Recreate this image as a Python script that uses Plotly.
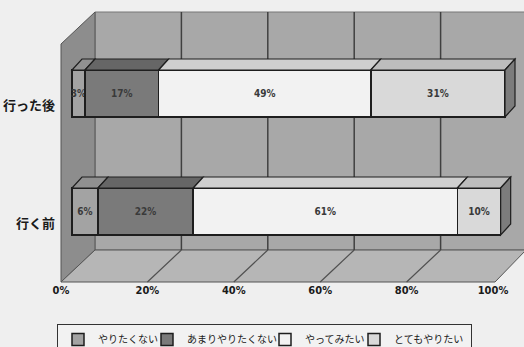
import plotly.graph_objects as go

# ---- data ----
categories = ["行く前", "行った後"]
series_names = ["やりたくない", "あまりやりたくない", "やってみたい", "とてもやりたい"]
v_yaritakunai = [6, 3]
v_amari = [22, 17]
v_yattemitai = [61, 49]
v_totemo = [10, 31]
tick_values = [0, 20, 40, 60, 80, 100]
tick_labels = ["0%", "20%", "40%", "60%", "80%", "100%"]

series_values = [v_yaritakunai, v_amari, v_yattemitai, v_totemo]
front_colors = ["#a3a3a3", "#7a7a7a", "#f2f2f2", "#d9d9d9"]
top_colors = ["#909090", "#666666", "#cfcfcf", "#bdbdbd"]
legend_widths = [44, 73, 44, 72]
side_color = "#7c7c7c"
edge = "#1e1e1e"

W, H = 524, 347
def fx(px):
    return px / W
def fy(py):
    return 1 - py / H

# pixel geometry of the pseudo-3D box
front_left, back_left = 61, 95
top_px, back_bottom, front_bottom = 12, 250, 282
depth_x, depth_y = back_left - front_left, front_bottom - back_bottom
pct_px = 4.33          # pixels per percent
bar0_px = 72           # pixel of 0% on bar front face
ypos = list(range(len(categories)))
unit_px = 118
cat_center_px = {1: 93.5, 0: 211.5}

x_range = [(front_left - bar0_px) / pct_px, (W - bar0_px) / pct_px]
y_range = [0 - (front_bottom - cat_center_px[0]) / unit_px,
           1 + (cat_center_px[1] - top_px) / unit_px]
bar_width = 47 / unit_px

fig = go.Figure()
for name, vals, col, lw in zip(series_names, series_values, front_colors, legend_widths):
    fig.add_trace(go.Bar(
        y=ypos, x=vals, name=name, orientation="h",
        marker=dict(color=col, line=dict(color=edge, width=1.5)),
        width=bar_width, legendwidth=lw,
        text=[f"{v}%" for v in vals], textposition="inside",
        insidetextanchor="middle", textangle=0,
        textfont=dict(size=10, color="#3a3a3a", weight="bold",
                      family="DejaVu Sans Condensed, Liberation Sans Narrow, sans-serif"),
        hoverinfo="skip",
    ))

# invisible trace carrying the floor tick axis
fig.add_trace(go.Scatter(x=[0, 100], y=[0, 0], xaxis="x2", yaxis="y",
                         mode="markers", marker=dict(opacity=0),
                         showlegend=False, hoverinfo="skip"))

shapes = []
def poly(pts, fill, line="#4a4a4a", lw=1, layer="below"):
    path = "M " + " L ".join(f"{fx(a)},{fy(b)}" for a, b in pts) + " Z"
    return dict(type="path", path=path, xref="paper", yref="paper",
                fillcolor=fill, line=dict(color=line, width=lw), layer=layer)

# walls
shapes.append(poly([(back_left, top_px), (W + 2, top_px), (W + 2, back_bottom), (back_left, back_bottom)], "#a8a8a8", line="#777"))
shapes.append(poly([(front_left, top_px + depth_y), (back_left, top_px), (back_left, back_bottom), (front_left, front_bottom)], "#8d8d8d", line="#555"))
shapes.append(poly([(front_left, front_bottom), (back_left, back_bottom), (W + 2, back_bottom), (493 + 2, front_bottom)], "#b6b6b6", line="#555"))

# gridlines on back wall and floor (from tick values)
floor_pct_px = (493 - front_left) / 100
for t in tick_values[1:-1]:
    xb = back_left + t * floor_pct_px
    xf = front_left + t * floor_pct_px
    shapes.append(dict(type="line", xref="paper", yref="paper", x0=fx(xb), x1=fx(xb),
                       y0=fy(top_px), y1=fy(back_bottom), line=dict(color="#404040", width=1.5), layer="below"))
    shapes.append(dict(type="line", xref="paper", yref="paper", x0=fx(xb), x1=fx(xf),
                       y0=fy(back_bottom), y1=fy(front_bottom), line=dict(color="#505050", width=1.2), layer="below"))

# 3D bar tops and right sides, computed from the data
dx = 10 / pct_px
dy = 11 / unit_px
for i, yp in enumerate(ypos):
    start = 0
    ytop = yp + bar_width / 2
    ybot = yp - bar_width / 2
    for s, vals in enumerate(series_values):
        end = start + vals[i]
        path = (f"M {start},{ytop} L {start+dx},{ytop+dy} L {end+dx},{ytop+dy} L {end},{ytop} Z")
        shapes.append(dict(type="path", path=path, xref="x", yref="y",
                           fillcolor=top_colors[s], line=dict(color=edge, width=1.2), layer="above"))
        start = end
    path = (f"M {start},{ytop} L {start+dx},{ytop+dy} L {start+dx},{ybot+dy} L {start},{ybot} Z")
    shapes.append(dict(type="path", path=path, xref="x", yref="y",
                       fillcolor=side_color, line=dict(color=edge, width=1.2), layer="above"))

fig.update_layout(
    width=W, height=H,
    margin=dict(l=0, r=0, t=0, b=0, autoexpand=False),
    paper_bgcolor="#efefef", plot_bgcolor="rgba(0,0,0,0)",
    barmode="stack",
    uniformtext=dict(minsize=9, mode="show"),
    font=dict(family="Noto Sans CJK JP, sans-serif", color="#1a1a1a"),
    xaxis=dict(domain=[fx(front_left), 1], range=x_range, visible=False, fixedrange=True),
    xaxis2=dict(domain=[fx(front_left), 1], range=[0, (W - front_left) / floor_pct_px],
                overlaying="x", anchor="free", position=fy(front_bottom), side="bottom",
                tickvals=tick_values, ticktext=tick_labels, showgrid=False, zeroline=False,
                showline=False, ticks="",
                tickfont=dict(size=11, family="DejaVu Sans Condensed, sans-serif", color="#1a1a1a", weight="bold")),
    yaxis=dict(domain=[fy(front_bottom), fy(top_px)], range=y_range,
               tickvals=ypos, ticktext=categories, showgrid=False, zeroline=False,
               showline=False, ticks="", ticklabelshift=12, ticklabelstandoff=5,
               tickfont=dict(size=13, family="Noto Sans CJK JP, sans-serif", color="#1a1a1a", weight="bold")),
    legend=dict(orientation="h", x=fx(57), xanchor="left", y=fy(324), yanchor="top",
                bgcolor="#f2f2f2", bordercolor="#333", borderwidth=1,
                font=dict(size=10, family="Noto Sans CJK JP, sans-serif", color="#1a1a1a"),
                itemwidth=30, traceorder="normal", tracegroupgap=0),
    shapes=shapes,
    showlegend=True,
)

fig.write_html("out.html")
